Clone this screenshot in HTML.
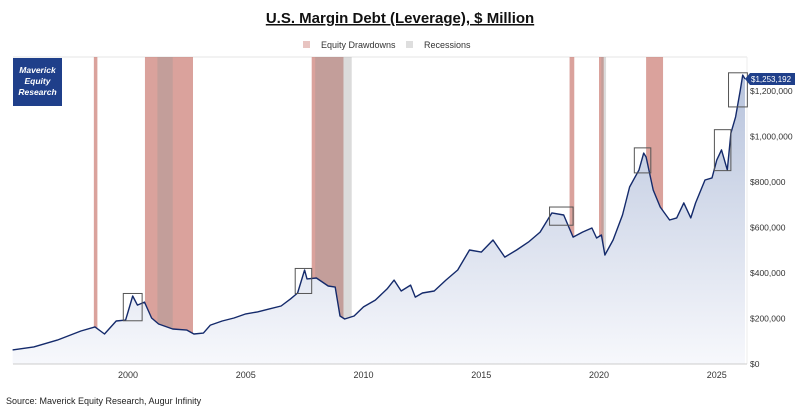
<!DOCTYPE html>
<html><head><meta charset="utf-8"><style>
body{margin:0;background:#fff;width:800px;height:411px;overflow:hidden;font-family:"Liberation Sans",sans-serif}
svg{display:block}
</style></head><body>
<svg id="chart" width="800" height="411">
<defs><linearGradient id="fillg" x1="0" y1="0" x2="0" y2="1"><stop offset="0" stop-color="#b7c3dc"/><stop offset="1" stop-color="#f7f8fc"/></linearGradient></defs>
<text x="400" y="23" text-anchor="middle" font-size="15" font-weight="bold" fill="#111" text-decoration="underline">U.S. Margin Debt (Leverage), $ Million</text>
<g>
<rect x="303" y="41" width="7" height="7" fill="#e8c4c1"/>
<text x="321" y="48" font-size="9" fill="#333">Equity Drawdowns</text>
<rect x="406" y="41" width="7" height="7" fill="#dedede"/>
<text x="424" y="48" font-size="9" fill="#333">Recessions</text>
</g>
<line x1="13" y1="57" x2="747" y2="57" stroke="#e6e6e6"/>
<line x1="747" y1="57" x2="747" y2="364" stroke="#eee"/>
<g id="bands"></g>
<g id="series"></g>
<g id="boxes"></g>
<line x1="13" y1="364" x2="747" y2="364" stroke="#ccc"/>
<g id="xticks"></g><g id="yticks"></g>
<rect x="13" y="58" width="49" height="48" fill="#1f3f8a"/>
<text font-size="8.5" font-weight="bold" font-style="italic" fill="#fff" text-anchor="middle"><tspan x="37.5" y="73">Maverick</tspan><tspan x="37.5" y="84">Equity</tspan><tspan x="37.5" y="95">Research</tspan></text>
<g id="lastlabel"></g>
<text x="6" y="404" font-size="9" fill="#222">Source: Maverick Equity Research, Augur Infinity</text>
</svg>
<script>
const dates=[1995.1,1996,1997,1998,1998.6,1999,1999.5,1999.9,2000.2,2000.4,2000.7,2001.0,2001.3,2001.9,2002.5,2002.8,2003.2,2003.5,2004,2004.5,2005,2005.5,2006,2006.5,2006.9,2007.2,2007.5,2007.6,2008.0,2008.5,2008.8,2009.0,2009.2,2009.6,2010,2010.5,2011.0,2011.3,2011.6,2012.0,2012.2,2012.5,2013,2013.5,2014,2014.5,2015,2015.5,2016,2016.5,2017,2017.5,2018,2018.5,2018.9,2019.3,2019.7,2019.9,2020.1,2020.25,2020.6,2021.0,2021.3,2021.7,2021.9,2022.0,2022.3,2022.6,2023.0,2023.3,2023.6,2023.9,2024.1,2024.5,2024.8,2025.0,2025.2,2025.45,2025.6,2025.8,2026.0,2026.1,2026.2];
const values=[62,75,105,145,163,132,189,193,299,259,272,202,176,154,149,132,136,171,189,202,220,229,242,255,286,312,413,374,378,343,338,211,198,211,251,281,330,369,321,347,294,312,321,369,413,501,492,545,470,501,536,580,664,655,558,580,598,554,567,479,545,655,778,853,927,910,765,690,633,642,708,642,708,809,818,897,941,853,1015,1086,1204,1270,1253];
const drawdowns=[[1998.55,1998.7],[2000.72,2002.76],[2007.8,2009.15],[2018.75,2018.95],[2020.0,2020.2],[2022.0,2022.72]];
const recessions=[[2001.25,2001.9],[2007.95,2009.5],[2020.1,2020.3]];
const peakBoxes=[[1999.8,2000.6,190,310],[2007.1,2007.8,310,420],[2017.9,2018.9,610,690],[2021.5,2022.2,840,950],[2024.9,2025.6,850,1030],[2025.5,2026.3,1130,1280]];
const xTickYears=[2000,2005,2010,2015,2020,2025];
const yTickVals=[0,200,400,600,800,1000,1200];
const lastValueLabel="$1,253,192";
const NS="http://www.w3.org/2000/svg";
const X=d=>128+(d-2000)*23.55;
const Y=v=>364-v/200*45.5;
function mk(tag,attrs,parent){const e=document.createElementNS(NS,tag);for(const k in attrs)e.setAttribute(k,attrs[k]);document.getElementById(parent).appendChild(e);return e;}
drawdowns.forEach(b=>{const r=mk('rect',{x:X(b[0]),y:57,width:X(b[1])-X(b[0]),height:307,fill:'#c2645a','fill-opacity':0.6},'bands');

});
recessions.forEach(b=>{const r=mk('rect',{x:X(b[0]),y:57,width:X(b[1])-X(b[0]),height:307,fill:'#999','fill-opacity':0.35},'bands');

});
let pts=dates.map((d,i)=>X(d).toFixed(1)+','+Y(values[i]).toFixed(1));
const area=mk('path',{d:'M'+X(dates[0])+',364 L'+pts.join(' L')+' L'+X(dates[dates.length-1])+',364 Z',fill:'url(#fillg)'},'series');


const line=mk('path',{d:'M'+pts.join(' L'),fill:'none',stroke:'#142a6b','stroke-width':1.4,'stroke-linejoin':'round'},'series');


peakBoxes.forEach(b=>{const r=mk('rect',{x:X(b[0]),y:Y(b[3]),width:X(b[1])-X(b[0]),height:Y(b[2])-Y(b[3]),fill:'none',stroke:'#555','stroke-width':1},'boxes');

});
xTickYears.forEach(y=>{const t=mk('text',{x:X(y),y:378,'font-size':9,fill:'#333','text-anchor':'middle'},'xticks');t.textContent=y;

});
yTickVals.forEach(v=>{const t=mk('text',{x:750,y:Y(v)+3,'font-size':8.5,fill:'#333'},'yticks');t.textContent=v===0?'$0':'$'+(v*1000).toLocaleString('en-US');

});
const ly=Y(values[values.length-1]);
const lb=mk('path',{d:`M745,${ly} L750,${ly-6} L795,${ly-6} L795,${ly+6} L750,${ly+6} Z`,fill:'#1f3f8a'},'lastlabel');


const lt=mk('text',{x:751,y:ly+3,'font-size':8,fill:'#fff'},'lastlabel');lt.textContent=lastValueLabel;


</script>
</body></html>
